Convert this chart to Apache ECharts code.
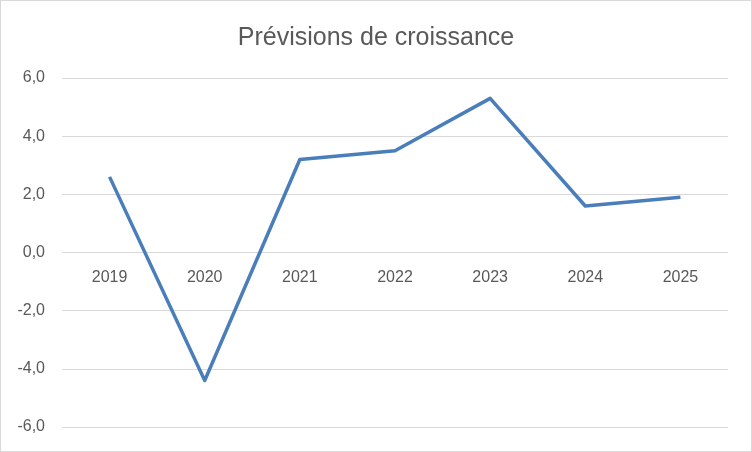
<!DOCTYPE html>
<html>
<head>
<meta charset="utf-8">
<script src="https://cdn.jsdelivr.net/npm/echarts@6/dist/echarts.min.js"></script>
<style>
html,body{margin:0;padding:0;background:#fff;}
#c{width:750px;height:450px;border:1px solid #d9d9d9;}
</style>
</head>
<body>
<div id="c"></div>
<script>
const titleText = 'Prévisions de croissance';
const categories = ['2019','2020','2021','2022','2023','2024','2025'];
const growth = [2.6, -4.4, 3.2, 3.5, 5.3, 1.6, 1.9];
const yMin = -6, yMax = 6, yStep = 2;

const font = 'Liberation Sans, Arial, sans-serif';
const chart = echarts.init(document.getElementById('c'), null, {renderer:'canvas'});
chart.setOption({
  animation:false,
  backgroundColor:'#fff',
  title:{
    text:titleText, left:'center', top:20,
    textStyle:{fontFamily:font, fontSize:25, fontWeight:'normal', color:'#595959'}
  },
  grid:{left:61, right:23, top:77, bottom:24},
  xAxis:{
    type:'category', data:categories, boundaryGap:true, position:'bottom', offset:0,
    axisLine:{show:false, onZero:false},
    axisTick:{show:false},
    axisLabel:{color:'#595959', fontSize:16, fontFamily:font, margin:14}
  },
  yAxis:{
    type:'value', min:yMin, max:yMax, interval:yStep,
    axisLine:{show:false}, axisTick:{show:false},
    splitLine:{lineStyle:{color:'#d9d9d9', width:1}},
    axisLabel:{color:'#595959', fontSize:16, fontFamily:font, margin:17,
      formatter:v=>v.toFixed(1).replace('.',',')}
  },
  series:[{
    type:'line', data:growth, symbol:'none',
    lineStyle:{color:'#4a7ebb', width:3.5, join:'round'}
  }]
});
// Move the category labels up to the zero line, using the library's scale
const yZero = chart.convertToPixel({yAxisIndex:0}, 0);
const yBottom = chart.convertToPixel({yAxisIndex:0}, yMin);
chart.setOption({xAxis:{offset:-(yBottom - yZero)}});
</script>
</body>
</html>
